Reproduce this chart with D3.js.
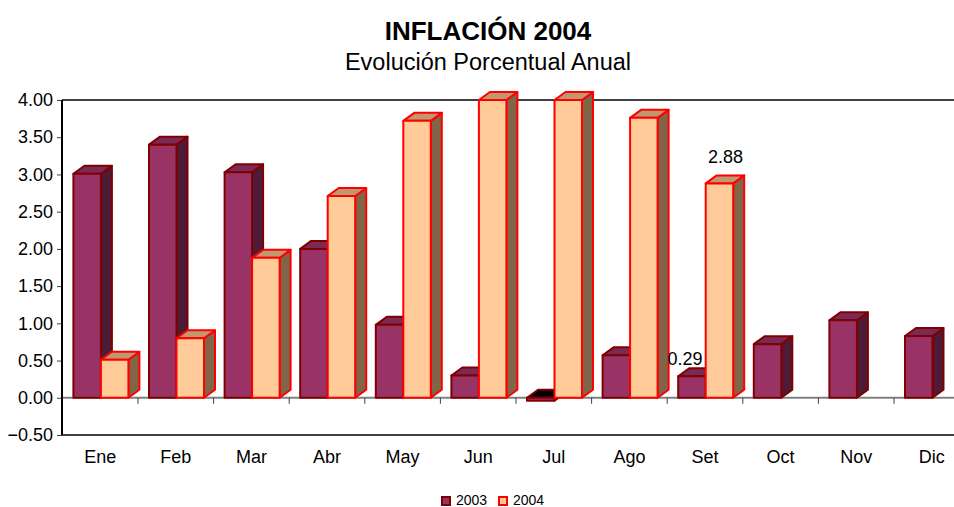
<!DOCTYPE html>
<html>
<head>
<meta charset="utf-8">
<script src="https://cdnjs.cloudflare.com/ajax/libs/d3/7.8.5/d3.min.js"></script>
<style>
  body { margin: 0; background: #fff; }
  text { font-family: "Liberation Sans", Arial, sans-serif; fill: #000; }
</style>
</head>
<body>
<div id="chart"></div>
<script>
// data
var months = ["Ene", "Feb", "Mar", "Abr", "May", "Jun", "Jul", "Ago", "Set", "Oct", "Nov", "Dic"];
var series = ["2003", "2004"];
var values2003 = [3.01, 3.40, 3.03, 2.00, 0.98, 0.30, -0.04, 0.57, 0.29, 0.72, 1.04, 0.83];
var values2004 = [0.51, 0.80, 1.88, 2.71, 3.72, 4.00, 4.00, 3.76, 2.88];
var yTicks = [-0.5, 0, 0.5, 1, 1.5, 2, 2.5, 3, 3.5, 4];
var labeled = [{ s: "2003", m: "Set" }, { s: "2004", m: "Set" }];

var W = 954, H = 507;
var dx = 11, dy = -8; // 3d depth

var colors = {
  "2003": { front: "#993366", top: "#7a2a55", side: "#4d1b35", stroke: "#800000", neg: "#000000" },
  "2004": { front: "#ffcc99", top: "#c09870", side: "#806548", stroke: "#ff0000", neg: "#000000" }
};

var svg = d3.select("#chart").append("svg")
  .attr("width", W).attr("height", H);

var x = d3.scaleBand().domain(months).range([62.4, 62.4 + 12 * 75.6]);
var x1 = d3.scaleBand().domain(series).range([11, 66]);
var y = d3.scaleLinear().domain([-0.5, 4]).range([435, 100]);

// titles
svg.append("text").attr("x", 488).attr("y", 40)
  .attr("text-anchor", "middle").style("font-size", "26px").style("font-weight", "bold")
  .text("INFLACIÓN 2004");
svg.append("text").attr("x", 488).attr("y", 70)
  .attr("text-anchor", "middle").style("font-size", "23.5px")
  .text("Evolución Porcentual Anual");

// frame lines
svg.append("line").attr("x1", 62).attr("x2", W).attr("y1", y(4)).attr("y2", y(4))
  .attr("stroke", "#404040").attr("stroke-width", 2);
svg.append("line").attr("x1", 62).attr("x2", W).attr("y1", y(-0.5)).attr("y2", y(-0.5))
  .attr("stroke", "#404040").attr("stroke-width", 2);
svg.append("line").attr("x1", 62).attr("x2", W).attr("y1", y(0)).attr("y2", y(0))
  .attr("stroke", "#808080").attr("stroke-width", 2);

// category ticks on the zero line
svg.selectAll(".ctick").data(months.slice(1))
  .enter().append("line")
  .attr("x1", function(d) { return x(d); }).attr("x2", function(d) { return x(d); })
  .attr("y1", y(0)).attr("y2", y(0) + 6)
  .attr("stroke", "#404040").attr("stroke-width", 1);

// y axis
var yAxis = d3.axisLeft(y).tickValues(yTicks).tickFormat(d3.format(".2f")).tickSize(5).tickPadding(4);
var ga = svg.append("g").attr("transform", "translate(62,0)").call(yAxis);
ga.select(".domain").remove();
ga.selectAll("line").attr("stroke", "#404040");
ga.selectAll("text").style("font-size", "18px").style("font-family", "Liberation Sans, Arial, sans-serif");
svg.append("line").attr("x1", 62).attr("x2", 62).attr("y1", y(4)).attr("y2", y(-0.5))
  .attr("stroke", "#000").attr("stroke-width", 2);

// category labels
svg.selectAll(".clab").data(months)
  .enter().append("text")
  .attr("x", function(d) { return x(d) + x.bandwidth() / 2; })
  .attr("y", 463)
  .attr("text-anchor", "middle").style("font-size", "18px")
  .text(function(d) { return d; });

// bars
var bars = [];
months.forEach(function(m, i) {
  if (values2003[i] != null) bars.push({ s: "2003", m: m, v: values2003[i] });
  if (values2004[i] != null) bars.push({ s: "2004", m: m, v: values2004[i] });
});

var gb = svg.append("g");
bars.forEach(function(b) {
  var c = colors[b.s];
  var x0 = x(b.m) + x1(b.s), xr = x0 + x1.bandwidth();
  var yt = y(Math.max(b.v, 0)), yb = y(Math.min(b.v, 0));
  var g = gb.append("g")
    .attr("stroke", c.stroke).attr("stroke-width", 2).attr("stroke-linejoin", "round");
  g.append("path")
    .attr("d", "M" + xr + "," + yt + "L" + (xr + dx) + "," + (yt + dy) + "L" + (xr + dx) + "," + (yb + dy) + "L" + xr + "," + yb + "Z")
    .attr("fill", c.side);
  g.append("path")
    .attr("d", "M" + x0 + "," + yt + "L" + (x0 + dx) + "," + (yt + dy) + "L" + (xr + dx) + "," + (yt + dy) + "L" + xr + "," + yt + "Z")
    .attr("fill", b.v < 0 ? c.neg : c.top);
  g.append("rect")
    .attr("x", x0).attr("y", yt).attr("width", xr - x0).attr("height", Math.max(yb - yt, 0.5))
    .attr("fill", c.front);
});

// data labels
labeled.forEach(function(l) {
  var b = bars.filter(function(d) { return d.s == l.s && d.m == l.m; })[0];
  var cx = x(b.m) + x1(b.s) + x1.bandwidth() / 2;
  var off = l.s == "2003" ? -7 : 6;
  svg.append("text")
    .attr("x", cx + off)
    .attr("y", y(b.v) + dy - (l.s == "2003" ? 3 : 12))
    .attr("text-anchor", "middle").style("font-size", "18px")
    .text(d3.format(".2f")(b.v));
});

// legend
var legend = svg.append("g").attr("transform", "translate(441,495)");
series.forEach(function(s, i) {
  var lg = legend.append("g").attr("transform", "translate(" + (i * 57) + ",0)");
  lg.append("rect").attr("x", 1).attr("y", 2).attr("width", 8).attr("height", 8)
    .attr("fill", colors[s].front).attr("stroke", colors[s].stroke).attr("stroke-width", 2);
  lg.append("text").attr("x", 15).attr("y", 10).style("font-size", "14px").text(s);
});
</script>
</body>
</html>
